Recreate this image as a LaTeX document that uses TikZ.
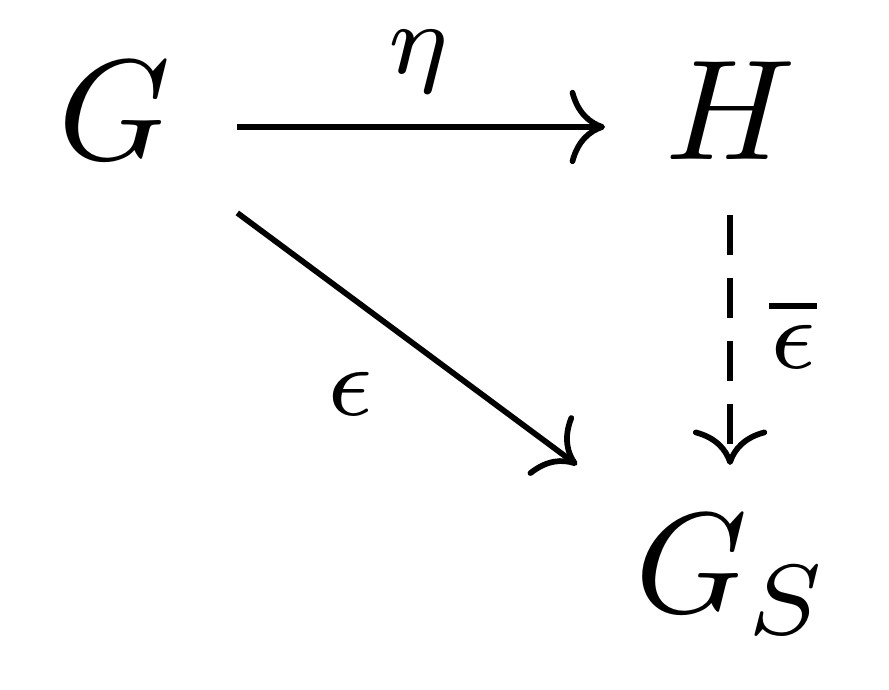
\documentclass[tikz,border=0pt]{standalone}
\usetikzlibrary{cd,calc}
\begin{document}
\begin{tikzpicture}[x=0.07pt,y=-0.07pt,
  obj/.style={inner sep=0pt,outer sep=0pt},
  lbl/.style={inner sep=0pt,outer sep=0pt,anchor=base},
  arr/.style={line width=0.4pt,-cm to},
  dasharr/.style={arr,dash pattern=on 2.8pt off 1.6pt}]
\useasboundingbox (0,0) rectangle (889,690);
\node[obj,anchor=base west] (G) at (58,160) {$G$};
\node[obj,anchor=base west] (H) at (665,160) {$H$};
\node[obj,anchor=base west] (GS) at (635,613) {$G_S$};
\node[lbl] (eta) at (419,74) {$\scriptstyle\eta$};
\node[lbl] (eps) at (350,416) {$\scriptstyle\epsilon$};
\node[lbl] (epsbar) at (793,369) {$\scriptstyle\overline{\epsilon}$};
\draw[arr] ($(G.base east)+(67,-33)$) -- ($(H.base west)+(-60,-33)$);
\draw[arr] ($(G.base east)+(67,53)$) -- ($(GS.base west)+(-58,-148)$);
\draw[dasharr] ($(H.base west)+(65,55)$) -- ($(GS.base west)+(95,-148)$);
\end{tikzpicture}
\end{document}
